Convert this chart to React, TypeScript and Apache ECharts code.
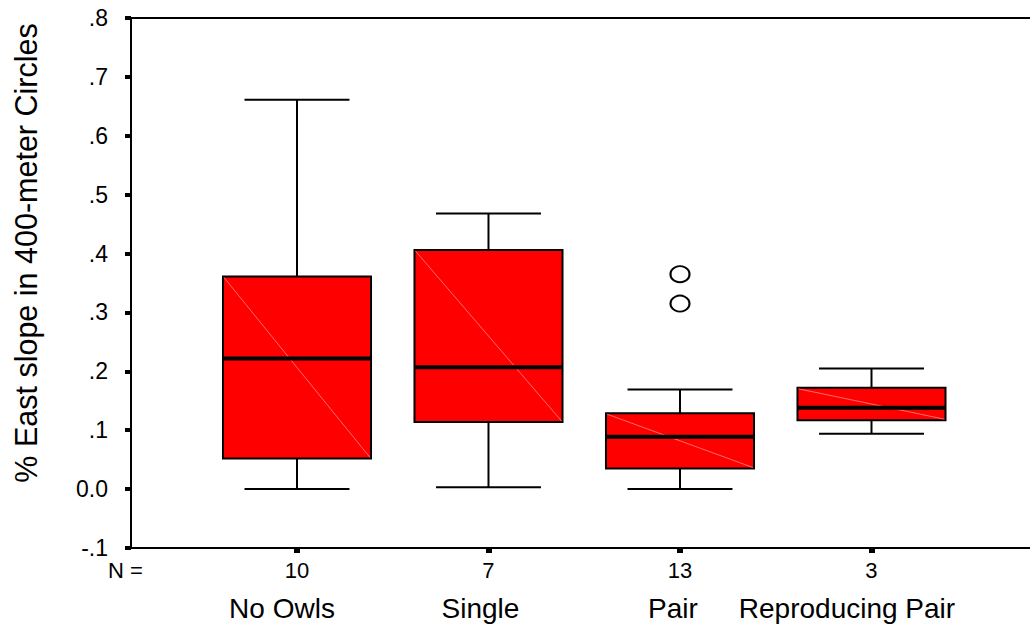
import React, { useEffect, useRef } from "react";
import * as echarts from "echarts";

// ---- data ----
const categories = ["No Owls", "Single", "Pair", "Reproducing Pair"];
const counts = [10, 7, 13, 3];
// [lower whisker, Q1, median, Q3, upper whisker]
const boxStats = [
  [0.0, 0.052, 0.222, 0.361, 0.661],
  [0.003, 0.114, 0.207, 0.406, 0.468],
  [0.0, 0.035, 0.089, 0.129, 0.169],
  [0.094, 0.117, 0.138, 0.172, 0.205],
];
// [category position, value]
const outliers = [
  [3, 0.315],
  [3, 0.365],
];
const yTicks = { min: -0.1, max: 0.8, interval: 0.1 };
const yTitle = "% East slope in 400-meter Circles";

const XMIN = 0.1332;
const XMAX = 4.8277;
const labelShift = [30, 16, 14, 49];
const FONT = "Arial, 'Liberation Sans', Helvetica, sans-serif";

export default function App() {
  const ref = useRef<HTMLDivElement>(null);
  useEffect(() => {
    if (!ref.current) return;
    const chart = echarts.init(ref.current, null, { renderer: "svg" });
    const boxData = boxStats.map((b, i) => [i + 1, ...b]);
    const yFmt = (v: number) => {
      const r = Math.round(v * 10) / 10;
      if (r === 0) return "0.0";
      return r.toFixed(1).replace("0.", ".");
    };
    const rich: any = {
      n: { fontSize: 22, fontFamily: FONT, color: "#000", padding: [0, 11, 0, 0] },
    };
    labelShift.forEach((s, i) => {
      rich["c" + i] = { fontSize: 28, fontFamily: FONT, color: "#000", padding: [0, s, 0, 0] };
    });

    chart.setOption({
      animation: false,
      backgroundColor: "#fff",
      grid: {
        left: 131,
        top: 18,
        right: 0,
        bottom: 79,
        show: false,
      },
      xAxis: [
        {
          type: "value",
          min: XMIN,
          max: XMAX,
          position: "bottom",
          splitLine: { show: false },
          axisLine: { show: true, onZero: false, lineStyle: { color: "#000", width: 2 } },
          axisTick: {
            show: true,
            customValues: [1, 2, 3, 4],
            length: 5,
            lineStyle: { color: "#000", width: 6 },
          },
          axisLabel: {
            customValues: [XMIN, 1, 2, 3, 4],
            margin: 11,
            fontSize: 22,
            fontFamily: FONT,
            color: "#000",
            formatter: (v: number) =>
              v < 0.5 ? "{n|N =}" : String(counts[Math.round(v) - 1]),
            rich,
          },
        },
        {
          type: "value",
          min: XMIN,
          max: XMAX,
          position: "bottom",
          splitLine: { show: false },
          axisLine: { show: false, onZero: false },
          axisTick: { show: false },
          axisLabel: {
            customValues: [1, 2, 3, 4],
            margin: 46,
            fontSize: 28,
            fontFamily: FONT,
            color: "#000",
            formatter: (v: number) => {
              const i = Math.round(v) - 1;
              return "{c" + i + "|" + categories[i] + "}";
            },
            rich,
          },
        },
        {
          type: "value",
          min: XMIN,
          max: XMAX,
          position: "top",
          splitLine: { show: false },
          axisLine: { show: true, onZero: false, lineStyle: { color: "#000", width: 2 } },
          axisTick: { show: false },
          axisLabel: { show: false },
        },
      ],
      yAxis: {
        type: "value",
        min: yTicks.min,
        max: yTicks.max,
        interval: yTicks.interval,
        splitLine: { show: false },
        axisLine: { show: true, onZero: false, lineStyle: { color: "#000", width: 2 } },
        axisTick: { show: true, length: 6, lineStyle: { color: "#000", width: 4 } },
        axisLabel: {
          margin: 23,
          fontSize: 23,
          fontFamily: FONT,
          color: "#000",
          formatter: yFmt,
        },
      },
      graphic: [
        {
          type: "text",
          x: 26,
          y: 253,
          rotation: Math.PI / 2,
          style: {
            text: yTitle,
            fontSize: 30.5,
            fontFamily: FONT,
            fill: "#000",
            align: "center",
            verticalAlign: "middle",
          },
        },
      ],
      series: [
        {
          type: "custom",
          xAxisIndex: 0,
          data: boxData,
          encode: { x: 0, y: [1, 2, 3, 4, 5] },
          renderItem: (params: any, api: any) => {
            const x = api.value(0);
            const lo = api.coord([x, api.value(1)]);
            const q1 = api.coord([x, api.value(2)]);
            const md = api.coord([x, api.value(3)]);
            const q3 = api.coord([x, api.value(4)]);
            const hi = api.coord([x, api.value(5)]);
            const bw = api.size([0.773, 0])[0];
            const cw = api.size([0.548, 0])[0];
            const cx = lo[0];
            const line = (x1: number, y1: number, x2: number, y2: number, w: number) => ({
              type: "line",
              shape: { x1, y1, x2, y2 },
              style: { stroke: "#000", lineWidth: w },
            });
            return {
              type: "group",
              children: [
                line(cx, hi[1], cx, q3[1], 2),
                line(cx, q1[1], cx, lo[1], 2),
                line(cx - cw / 2, hi[1], cx + cw / 2, hi[1], 2),
                line(cx - cw / 2, lo[1], cx + cw / 2, lo[1], 2),
                {
                  type: "rect",
                  shape: { x: cx - bw / 2, y: q3[1], width: bw, height: q1[1] - q3[1] },
                  style: { fill: "#ff0000", stroke: "#000", lineWidth: 2 },
                },
                {
                  type: "line",
                  shape: { x1: cx - bw / 2 + 1, y1: q3[1] + 1, x2: cx + bw / 2 - 1, y2: q1[1] - 1 },
                  style: { stroke: "rgba(255,170,170,0.8)", lineWidth: 0.8 },
                },
                line(cx - bw / 2, md[1], cx + bw / 2, md[1], 4),
              ],
            };
          },
        },
        {
          type: "scatter",
          xAxisIndex: 0,
          data: outliers,
          symbol: "circle",
          symbolSize: [19, 16],
          itemStyle: { color: "#fff", borderColor: "#000", borderWidth: 2, opacity: 1 },
        },
      ],
    });
    return () => chart.dispose();
  }, []);
  return (
    <div
      ref={ref}
      style={{ position: "fixed", left: 0, top: 0, width: 1030, height: 627, background: "#fff" }}
    />
  );
}
